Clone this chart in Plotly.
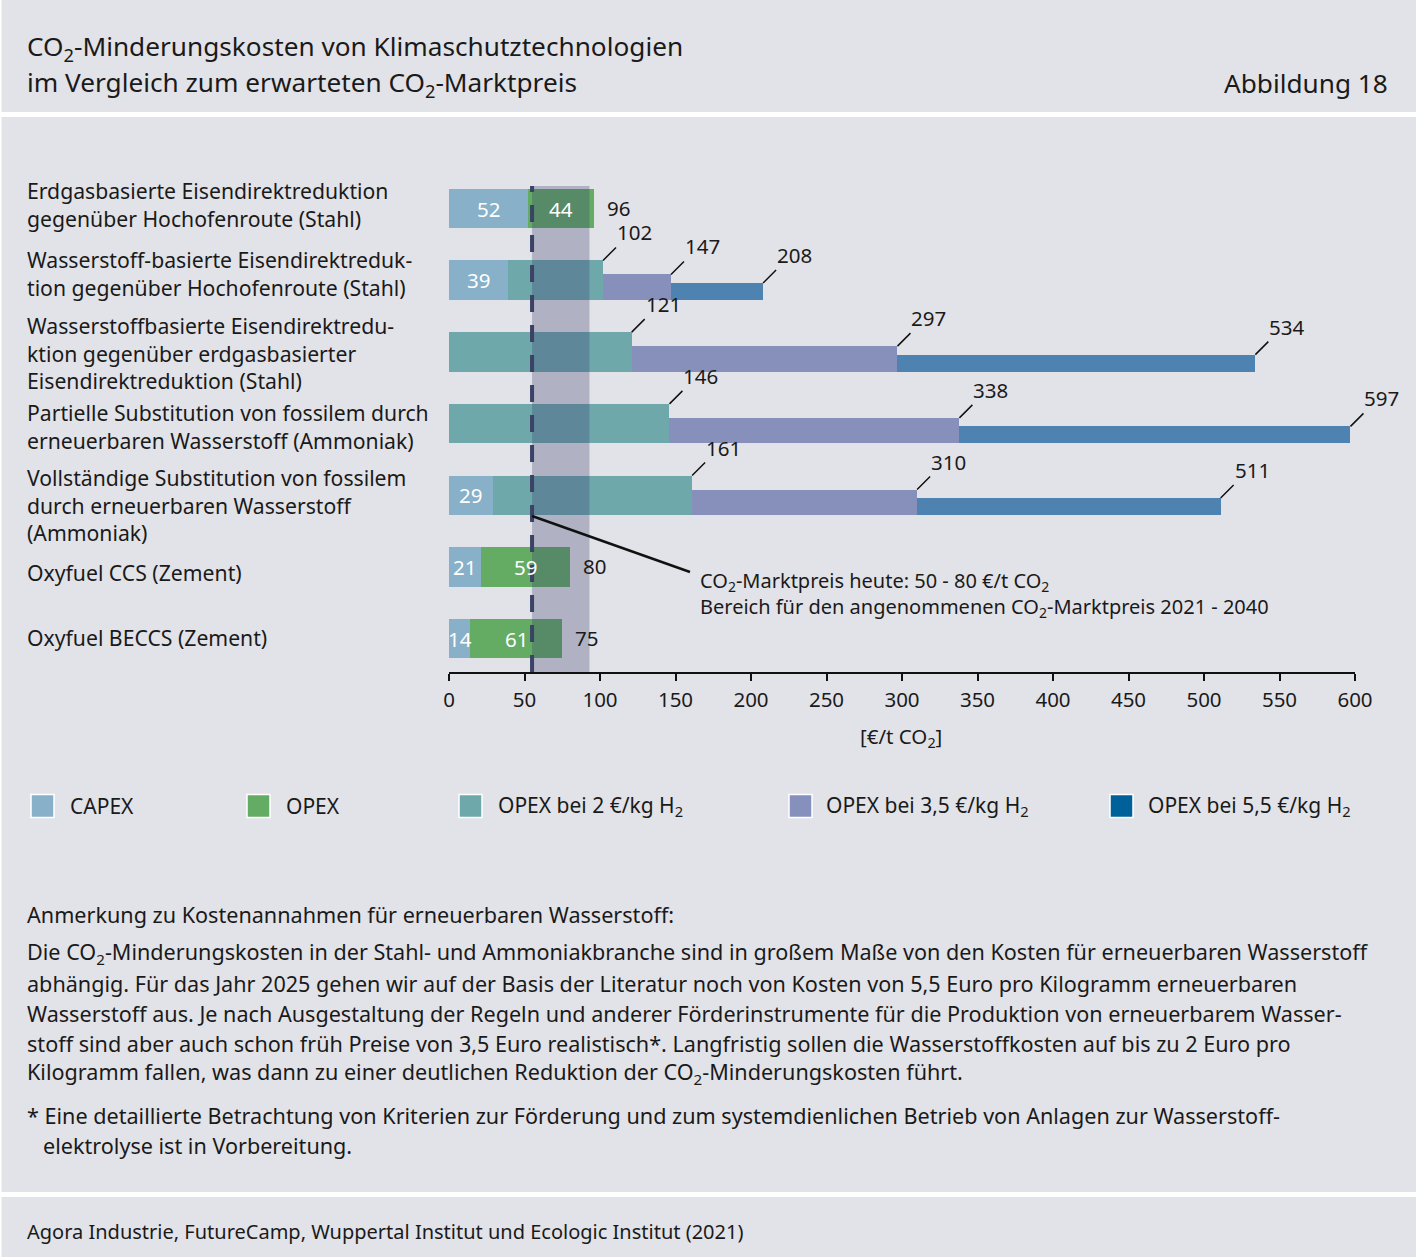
import plotly.graph_objects as go

# ---------------- data ----------------
categories = [
    "Erdgasbasierte Eisendirektreduktion<br>gegenüber Hochofenroute (Stahl)",
    "Wasserstoff-basierte Eisendirektreduk-<br>tion gegenüber Hochofenroute (Stahl)",
    "Wasserstoffbasierte Eisendirektredu-<br>ktion gegenüber erdgasbasierter<br>Eisendirektreduktion (Stahl)",
    "Partielle Substitution von fossilem durch<br>erneuerbaren Wasserstoff (Ammoniak)",
    "Vollständige Substitution von fossilem<br>durch erneuerbaren Wasserstoff<br>(Ammoniak)",
    "Oxyfuel CCS (Zement)",
    "Oxyfuel BECCS (Zement)",
]
capex = [52, 39, 0, 0, 29, 21, 14]
opex = [44, None, None, None, None, 59, 61]
total_h2_2 = [None, 102, 121, 146, 161, None, None]
total_h2_35 = [None, 147, 297, 338, 310, None, None]
total_h2_55 = [None, 208, 534, 597, 511, None, None]
market_today = 55
market_range = [55, 93]
x_ticks = [0, 50, 100, 150, 200, 250, 300, 350, 400, 450, 500, 550, 600]

legend_labels = ["CAPEX", "OPEX", "OPEX bei 2 €/kg H<sub>2</sub>",
                 "OPEX bei 3,5 €/kg H<sub>2</sub>", "OPEX bei 5,5 €/kg H<sub>2</sub>"]

title_lines = ["CO<sub>2</sub>-Minderungskosten von Klimaschutztechnologien",
               "im Vergleich zum erwarteten CO<sub>2</sub>-Marktpreis"]
figure_no = "Abbildung 18"
market_text = ["CO<sub>2</sub>-Marktpreis heute: 50 - 80 €/t CO<sub>2</sub>",
               "Bereich für den angenommenen CO<sub>2</sub>-Marktpreis 2021 - 2040"]
note_lines = [
    "Anmerkung zu Kostenannahmen für erneuerbaren Wasserstoff:",
    "Die CO<sub>2</sub>-Minderungskosten in der Stahl- und Ammoniakbranche sind in großem Maße von den Kosten für erneuerbaren Wasserstoff",
    "abhängig. Für das Jahr 2025 gehen wir auf der Basis der Literatur noch von Kosten von 5,5 Euro pro Kilogramm erneuerbaren",
    "Wasserstoff aus. Je nach Ausgestaltung der Regeln und anderer Förderinstrumente für die Produktion von erneuerbarem Wasser-",
    "stoff sind aber auch schon früh Preise von 3,5 Euro realistisch*. Langfristig sollen die Wasserstoffkosten auf bis zu 2 Euro pro",
    "Kilogramm fallen, was dann zu einer deutlichen Reduktion der CO<sub>2</sub>-Minderungskosten führt.",
]
footnote_lines = [
    "* Eine detaillierte Betrachtung von Kriterien zur Förderung und zum systemdienlichen Betrieb von Anlagen zur Wasserstoff-",
    "elektrolyse ist in Vorbereitung.",
]
source = "Agora Industrie, FutureCamp, Wuppertal Institut und Ecologic Institut (2021)"

# ---------------- style ----------------
FONT = "Noto Sans"
TXT = "#1a1a1a"
BG = "#e2e3e8"
C_CAPEX = "#88b0c8"
C_OPEX = "#64ab64"
C_H2_2 = "#6fa8ab"
C_H2_35 = "#8690ba"
C_H2_55 = "#4e82b0"
LEG_COLORS = [C_CAPEX, C_OPEX, C_H2_2, "#8690bc", "#00609a"]

W_FIG, H_FIG = 1416, 1257
L, R, T, B = 449, 61, 175, 585
PW, PH = W_FIG - L - R, H_FIG - T - B


def px(xp):
    return (xp - L) / PW


def py(yp):
    return 1 - (yp - T) / PH


row0, row_step = 208.5, 71.7
y_top = (T - row0) / row_step
y_bot = (T + PH - row0) / row_step

w_full = 39.5 / row_step
w_35 = 25.5 / row_step
w_55 = 17.0 / row_step
off_full = -w_full / 2
off_35 = w_full / 2 - w_35
off_55 = w_full / 2 - w_55

n = len(categories)
ys = list(range(n))

fig = go.Figure()


def add_bar(xvals, base, width, offset, color):
    fig.add_trace(go.Bar(
        y=ys, x=xvals, base=base, orientation="h", width=width, offset=offset,
        marker=dict(color=color, line=dict(width=0)), hoverinfo="skip", showlegend=False))


add_bar([v if v is not None else 0 for v in total_h2_55], None, w_55, off_55, C_H2_55)
add_bar([v if v is not None else 0 for v in total_h2_35], None, w_35, off_35, C_H2_35)
add_bar([(v - c) if v is not None else 0 for v, c in zip(total_h2_2, capex)], capex, w_full, off_full, C_H2_2)
add_bar([v if v is not None else 0 for v in opex], capex, w_full, off_full, C_OPEX)
add_bar(capex, None, w_full, off_full, C_CAPEX)

shapes = []
annotations = []

# white separators between panels
for y0, y1 in [(112, 117), (1192, 1197)]:
    shapes.append(dict(type="rect", xref="paper", yref="paper", x0=px(-5), x1=px(W_FIG + 5),
                       y0=py(y1), y1=py(y0), fillcolor="white", line=dict(width=0), layer="below"))
shapes.append(dict(type="rect", xref="paper", yref="paper", x0=px(-2), x1=px(1.5),
                   y0=py(H_FIG + 2), y1=py(-2), fillcolor="white", line=dict(width=0), layer="below"))

# market price band and dashed line
shapes.append(dict(type="rect", xref="x", yref="paper", x0=market_range[0], x1=market_range[1],
                   y0=0, y1=py(186), fillcolor="rgba(56,60,110,0.29)", line=dict(width=0), layer="above"))
shapes.append(dict(type="line", xref="x", yref="paper", x0=market_today, x1=market_today,
                   y0=0, y1=py(186), line=dict(color="#3b4266", width=4, dash="17px,13px"), layer="above"))
# connector for market price text
shapes.append(dict(type="line", xref="x", yref="paper", x0=market_today, x1=(690 - L) / PW * 600,
                   y0=py(516), y1=py(572), line=dict(color="#111111", width=2.5), layer="above"))
annotations.append(dict(text="<br>".join(market_text), xref="paper", yref="paper", x=px(698), y=py(565),
                        xanchor="left", yanchor="top", align="left", showarrow=False,
                        font=dict(family=FONT, size=20, color=TXT)))

# category labels
label_shift = [4, 7, -1, -3, -10, -5, 1]
for i, c in enumerate(categories):
    annotations.append(dict(text=c, xref="paper", yref="y", x=px(25), y=i, yshift=label_shift[i],
                            xanchor="left", yanchor="middle", align="left", showarrow=False,
                            font=dict(family=FONT, size=21.2, color=TXT)))

# inside labels
for i in range(n):
    if capex[i]:
        annotations.append(dict(text=str(capex[i]), x=capex[i] / 2, y=i, xref="x", yref="y",
                                showarrow=False, borderpad=0,
                                font=dict(family=FONT, size=20.5, color="white")))
    if opex[i] is not None:
        annotations.append(dict(text=str(opex[i]), x=capex[i] + opex[i] / 2, y=i, xref="x", yref="y",
                                showarrow=False, borderpad=0,
                                font=dict(family=FONT, size=20.5, color="white")))
        annotations.append(dict(text=str(capex[i] + opex[i]), x=capex[i] + opex[i], y=i, xref="x", yref="y",
                                xanchor="left", xshift=12, yshift=1, showarrow=False, borderpad=0,
                                font=dict(family=FONT, size=20.5, color=TXT)))

# leader labels
for vals, off in [(total_h2_2, off_full), (total_h2_35, off_35), (total_h2_55, off_55)]:
    for i, v in enumerate(vals):
        if v is None:
            continue
        annotations.append(dict(text=str(v), x=v, y=i + off, xref="x", yref="y",
                                showarrow=True, arrowhead=0, arrowwidth=1.5, arrowcolor="#111111",
                                ax=13, ay=-13, xanchor="left", yanchor="bottom", borderpad=0,
                                font=dict(family=FONT, size=20.5, color=TXT)))

# axis title
annotations.append(dict(text="[€/t CO<sub>2</sub>]", xref="paper", yref="paper", x=px(901), y=py(737),
                        showarrow=False, xanchor="center", yanchor="middle",
                        font=dict(family=FONT, size=20.5, color=TXT)))

# legend
leg_sq_x = [31, 247, 459, 789, 1110]
leg_txt_x = [68, 284, 496, 824, 1146]
for i, lab in enumerate(legend_labels):
    shapes.append(dict(type="rect", xref="paper", yref="paper", x0=px(leg_sq_x[i]), x1=px(leg_sq_x[i] + 23),
                       y0=py(817.5), y1=py(794.5), fillcolor=LEG_COLORS[i],
                       line=dict(color="white", width=1.5)))
    annotations.append(dict(text=lab, xref="paper", yref="paper", x=px(leg_txt_x[i]), y=py(806),
                            xanchor="left", yanchor="middle", showarrow=False,
                            font=dict(family=FONT, size=21, color=TXT)))

# title
for i, t in enumerate(title_lines):
    annotations.append(dict(text=t, xref="paper", yref="paper", x=px(25), y=py(47 + 36 * i),
                            xanchor="left", yanchor="middle", showarrow=False,
                            font=dict(family=FONT, size=26.2, color=TXT)))
annotations.append(dict(text=figure_no, xref="paper", yref="paper", x=px(1390), y=py(83),
                        xanchor="right", yanchor="middle", showarrow=False,
                        font=dict(family=FONT, size=26.2, color=TXT)))

# notes
NOTE_SIZE = 21.6
annotations.append(dict(text=note_lines[0], xref="paper", yref="paper", x=px(25), y=py(914),
                        xanchor="left", yanchor="middle", showarrow=False,
                        font=dict(family=FONT, size=NOTE_SIZE, color=TXT)))
for i, t in enumerate(note_lines[1:]):
    annotations.append(dict(text=t, xref="paper", yref="paper", x=px(25), y=py(953 + 30 * i),
                            xanchor="left", yanchor="middle", showarrow=False,
                            font=dict(family=FONT, size=NOTE_SIZE, color=TXT)))
annotations.append(dict(text=footnote_lines[0], xref="paper", yref="paper", x=px(25), y=py(1115),
                        xanchor="left", yanchor="middle", showarrow=False,
                        font=dict(family=FONT, size=NOTE_SIZE, color=TXT)))
annotations.append(dict(text=footnote_lines[1], xref="paper", yref="paper", x=px(41), y=py(1145),
                        xanchor="left", yanchor="middle", showarrow=False,
                        font=dict(family=FONT, size=NOTE_SIZE, color=TXT)))
annotations.append(dict(text=source, xref="paper", yref="paper", x=px(25), y=py(1231),
                        xanchor="left", yanchor="middle", showarrow=False,
                        font=dict(family=FONT, size=20, color=TXT)))

fig.update_layout(
    width=W_FIG, height=H_FIG,
    margin=dict(l=L, r=R, t=T, b=B, pad=0),
    paper_bgcolor=BG, plot_bgcolor="rgba(0,0,0,0)",
    barmode="overlay", bargap=0,
    showlegend=False,
    font=dict(family=FONT, size=20, color=TXT),
    shapes=shapes, annotations=annotations,
    xaxis=dict(range=[0, 600], tickvals=x_ticks, ticktext=[str(v) for v in x_ticks],
               showgrid=False, zeroline=False, showline=True, linecolor="#111111", linewidth=1.5,
               ticks="outside", ticklen=7, tickwidth=1.5, tickcolor="#111111",
               tickfont=dict(family=FONT, size=20.5, color=TXT), ticklabelstandoff=2, fixedrange=True),
    yaxis=dict(range=[y_bot, y_top], showgrid=False, zeroline=False, showline=False,
               showticklabels=False, ticks="", fixedrange=True),
)

fig.write_html("out.html", config={"displayModeBar": False},
               post_script="document.body.style.margin='0';document.body.style.overflow='hidden';")
